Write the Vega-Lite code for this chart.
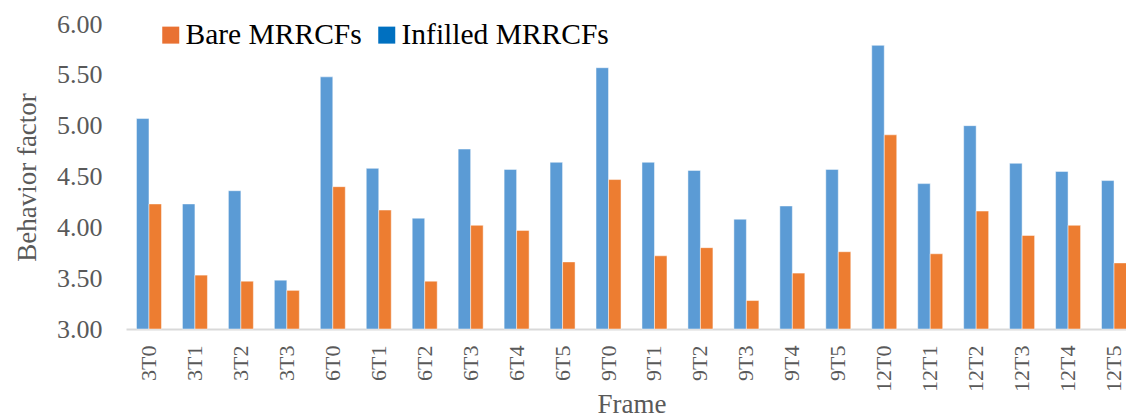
{
  "$schema": "https://vega.github.io/schema/vega-lite/v6.json",
  "width": 1000,
  "height": 305,
  "autosize": {"type": "none"},
  "padding": {"left": 126, "top": 24, "right": 0, "bottom": 88},
  "background": "white",
  "config": {
    "view": {"stroke": null},
    "font": "'Liberation Serif', 'Times New Roman', serif"
  },
  "data": {
    "values": [
      {"Frame": "3T0", "Type": "Infilled MRRCFs", "Value": 5.07},
      {"Frame": "3T0", "Type": "Bare MRRCFs", "Value": 4.23},
      {"Frame": "3T1", "Type": "Infilled MRRCFs", "Value": 4.23},
      {"Frame": "3T1", "Type": "Bare MRRCFs", "Value": 3.53},
      {"Frame": "3T2", "Type": "Infilled MRRCFs", "Value": 4.36},
      {"Frame": "3T2", "Type": "Bare MRRCFs", "Value": 3.47},
      {"Frame": "3T3", "Type": "Infilled MRRCFs", "Value": 3.48},
      {"Frame": "3T3", "Type": "Bare MRRCFs", "Value": 3.38},
      {"Frame": "6T0", "Type": "Infilled MRRCFs", "Value": 5.48},
      {"Frame": "6T0", "Type": "Bare MRRCFs", "Value": 4.40},
      {"Frame": "6T1", "Type": "Infilled MRRCFs", "Value": 4.58},
      {"Frame": "6T1", "Type": "Bare MRRCFs", "Value": 4.17},
      {"Frame": "6T2", "Type": "Infilled MRRCFs", "Value": 4.09},
      {"Frame": "6T2", "Type": "Bare MRRCFs", "Value": 3.47},
      {"Frame": "6T3", "Type": "Infilled MRRCFs", "Value": 4.77},
      {"Frame": "6T3", "Type": "Bare MRRCFs", "Value": 4.02},
      {"Frame": "6T4", "Type": "Infilled MRRCFs", "Value": 4.57},
      {"Frame": "6T4", "Type": "Bare MRRCFs", "Value": 3.97},
      {"Frame": "6T5", "Type": "Infilled MRRCFs", "Value": 4.64},
      {"Frame": "6T5", "Type": "Bare MRRCFs", "Value": 3.66},
      {"Frame": "9T0", "Type": "Infilled MRRCFs", "Value": 5.57},
      {"Frame": "9T0", "Type": "Bare MRRCFs", "Value": 4.47},
      {"Frame": "9T1", "Type": "Infilled MRRCFs", "Value": 4.64},
      {"Frame": "9T1", "Type": "Bare MRRCFs", "Value": 3.72},
      {"Frame": "9T2", "Type": "Infilled MRRCFs", "Value": 4.56},
      {"Frame": "9T2", "Type": "Bare MRRCFs", "Value": 3.80},
      {"Frame": "9T3", "Type": "Infilled MRRCFs", "Value": 4.08},
      {"Frame": "9T3", "Type": "Bare MRRCFs", "Value": 3.28},
      {"Frame": "9T4", "Type": "Infilled MRRCFs", "Value": 4.21},
      {"Frame": "9T4", "Type": "Bare MRRCFs", "Value": 3.55},
      {"Frame": "9T5", "Type": "Infilled MRRCFs", "Value": 4.57},
      {"Frame": "9T5", "Type": "Bare MRRCFs", "Value": 3.76},
      {"Frame": "12T0", "Type": "Infilled MRRCFs", "Value": 5.79},
      {"Frame": "12T0", "Type": "Bare MRRCFs", "Value": 4.91},
      {"Frame": "12T1", "Type": "Infilled MRRCFs", "Value": 4.43},
      {"Frame": "12T1", "Type": "Bare MRRCFs", "Value": 3.74},
      {"Frame": "12T2", "Type": "Infilled MRRCFs", "Value": 5.00},
      {"Frame": "12T2", "Type": "Bare MRRCFs", "Value": 4.16},
      {"Frame": "12T3", "Type": "Infilled MRRCFs", "Value": 4.63},
      {"Frame": "12T3", "Type": "Bare MRRCFs", "Value": 3.92},
      {"Frame": "12T4", "Type": "Infilled MRRCFs", "Value": 4.55},
      {"Frame": "12T4", "Type": "Bare MRRCFs", "Value": 4.02},
      {"Frame": "12T5", "Type": "Infilled MRRCFs", "Value": 4.46},
      {"Frame": "12T5", "Type": "Bare MRRCFs", "Value": 3.65}
    ]
  },
  "encoding": {
    "x": {
      "field": "Frame",
      "type": "nominal",
      "sort": null,
      "scale": {"range": [0, 1011], "paddingInner": 0.456, "paddingOuter": 0.228},
      "axis": {
        "title": "Frame",
        "titleFont": "'Liberation Serif', 'Times New Roman', serif",
        "titleFontSize": 27,
        "titleFontWeight": "normal",
        "titleColor": "#595959",
        "titleBaseline": "alphabetic",
        "titleY": 83,
        "labelAngle": -90,
        "labelFont": "'Liberation Serif', 'Times New Roman', serif",
        "labelFontSize": 22,
        "labelColor": "#595959",
        "labelPadding": 16,
        "ticks": false,
        "domainColor": "#D9D9D9",
        "domainWidth": 2,
        "grid": false
      }
    },
    "y": {
      "field": "Value",
      "type": "quantitative",
      "scale": {"domain": [3, 6], "zero": false, "nice": false},
      "axis": {
        "title": "Behavior factor",
        "titleFont": "'Liberation Serif', 'Times New Roman', serif",
        "titleFontSize": 27,
        "titleFontWeight": "normal",
        "titleColor": "#595959",
        "titleAngle": -90,
        "titleBaseline": "alphabetic",
        "titleAlign": "center",
        "titleX": -91,
        "titleY": 153,
        "values": [3, 3.5, 4, 4.5, 5, 5.5, 6],
        "format": ".2f",
        "labelFont": "'Liberation Serif', 'Times New Roman', serif",
        "labelFontSize": 26,
        "labelColor": "#595959",
        "labelPadding": 24,
        "ticks": false,
        "domain": false,
        "grid": false
      }
    }
  },
  "layer": [
    {
      "mark": {"type": "bar", "stroke": "white", "strokeWidth": 0.8, "strokeOpacity": 0.6},
      "encoding": {
        "xOffset": {
          "field": "Type",
          "type": "nominal",
          "sort": ["Infilled MRRCFs", "Bare MRRCFs"],
          "scale": {"domain": ["Infilled MRRCFs", "Bare MRRCFs"], "paddingInner": 0, "paddingOuter": 0}
        },
        "y2": {"datum": 3},
        "color": {
          "field": "Type",
          "type": "nominal",
          "scale": {"domain": ["Bare MRRCFs", "Infilled MRRCFs"], "range": ["#ED7D31", "#5B9BD5"]},
          "legend": null
        }
      }
    },
    {
      "mark": {"type": "point", "shape": "square", "filled": true, "opacity": 0},
      "encoding": {
        "color": {
          "field": "Type",
          "type": "nominal",
          "scale": {"domain": ["Bare MRRCFs", "Infilled MRRCFs"], "range": ["#E97132", "#0070C0"]},
          "legend": {
            "title": null,
            "orient": "none",
            "direction": "horizontal",
            "legendX": 30,
            "legendY": -4,
            "symbolType": "square",
            "symbolSize": 289,
            "symbolOpacity": 1,
            "symbolStrokeWidth": 0,
            "labelFont": "'Liberation Serif', 'Times New Roman', serif",
            "labelFontSize": 29.5,
            "labelColor": "#000000",
            "labelLimit": 500,
            "labelOffset": 0,
            "columnPadding": 10,
            "padding": 0
          }
        }
      }
    }
  ],
  "resolve": {"scale": {"color": "independent"}}
}
